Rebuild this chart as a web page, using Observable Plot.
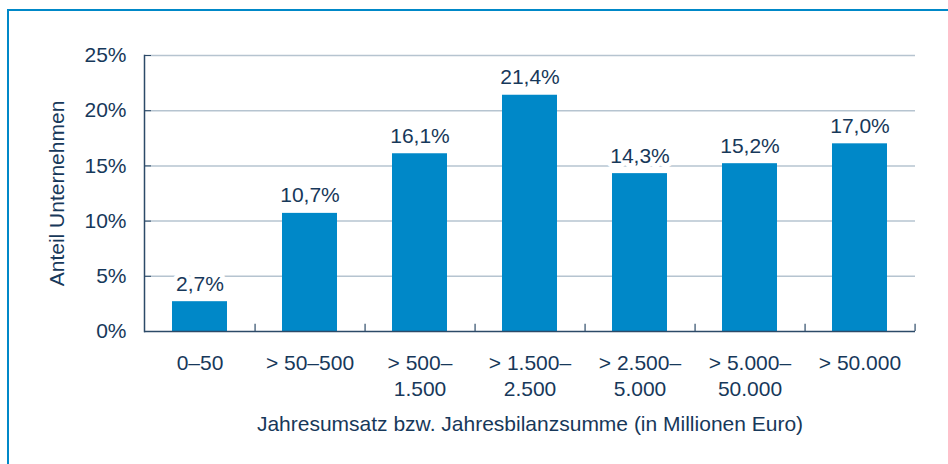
<!DOCTYPE html>
<html>
<head>
<meta charset="utf-8">
<script src="https://cdn.jsdelivr.net/npm/d3@7"></script>
<script src="https://cdn.jsdelivr.net/npm/@observablehq/plot@0.6"></script>
<style>
  html, body { margin: 0; padding: 0; background: #fff; overflow: hidden; }
  #box { position: absolute; left: 7px; top: 9px; width: 2000px; height: 2000px;
         border-left: 2px solid #0088c8; border-top: 2px solid #0088c8; }
  #chart { position: absolute; left: 0; top: 0; }
</style>
</head>
<body>
<div id="box"></div>
<div id="chart"></div>
<script>
const categories = ["0–50", "> 50–500", "> 500–1.500", "> 1.500–2.500", "> 2.500–5.000", "> 5.000–50.000", "> 50.000"];
const tickLabels = ["0–50", "> 50–500", "> 500–\n1.500", "> 1.500–\n2.500", "> 2.500–\n5.000", "> 5.000–\n50.000", "> 50.000"];
const values = [2.7, 10.7, 16.1, 21.4, 14.3, 15.2, 17.0];
const yTicks = [0, 5, 10, 15, 20, 25];
const yTitle = "Anteil Unternehmen";
const xTitle = "Jahresumsatz bzw. Jahresbilanzsumme (in Millionen Euro)";

const barColor = "#0088c8";
const textColor = "#17385a";
const gridColor = "#b6c4d0";
const axisColor = "#2c4a68";

const data = categories.map((c, i) => ({cat: c, value: values[i], tick: tickLabels[i]}));
const fmt = v => v.toFixed(1).replace(".", ",") + "%";

const W = 948, H = 464, ML = 144, MR = 33, MT = 55, MB = 133;
const step = (W - ML - MR) / categories.length;
const FS = 21;

const chart = Plot.plot({
  width: W, height: H,
  marginLeft: ML, marginRight: MR, marginTop: MT, marginBottom: MB,
  style: {fontFamily: "'Liberation Sans', Arial, sans-serif", fontSize: FS + "px", color: textColor, background: "transparent"},
  x: {domain: categories, paddingInner: 0.5, paddingOuter: 0.25, label: null, axis: null},
  y: {domain: [0, 25], label: null, axis: null},
  marks: [
    Plot.ruleY(yTicks.filter(d => d > 0), {y: d => d, stroke: gridColor, strokeWidth: 1.5}),
    Plot.barY(data, {x: "cat", y: "value", fill: barColor}),
    Plot.text(data, {x: "cat", y: "value", text: d => fmt(d.value), dy: -11, lineAnchor: "bottom",
      fill: textColor, stroke: "white", strokeWidth: 9, fontSize: FS}),
    Plot.axisY({ticks: yTicks, tickSize: 0, tickPadding: 18, tickFormat: d => d + "%", fill: textColor, fontSize: FS, label: null}),
    Plot.axisY({ticks: yTicks, tickSize: -7, tickFormat: () => "", stroke: axisColor, label: null}),
    Plot.ruleY([0], {stroke: axisColor, strokeWidth: 1.5}),
    Plot.frame({anchor: "left", stroke: axisColor, strokeWidth: 1.5}),
    Plot.ruleX(categories, {x: d => d, dx: step / 2, y1: 0, y2: 0.65, stroke: axisColor, strokeWidth: 1.2}),
    Plot.text(data, {x: "cat", text: "tick", frameAnchor: "bottom", dy: 21, lineAnchor: "top", lineHeight: 1.2,
      fill: textColor, fontSize: FS}),
    Plot.text([xTitle], {text: d => d, frameAnchor: "bottom", dy: 93, lineAnchor: "middle", fill: textColor, fontSize: FS}),
    Plot.text([yTitle], {text: d => d, frameAnchor: "left", textAnchor: "middle", dx: -87, rotate: -90, lineAnchor: "middle", fill: textColor, fontSize: FS})
  ]
});
document.getElementById("chart").appendChild(chart);
</script>
</body>
</html>
